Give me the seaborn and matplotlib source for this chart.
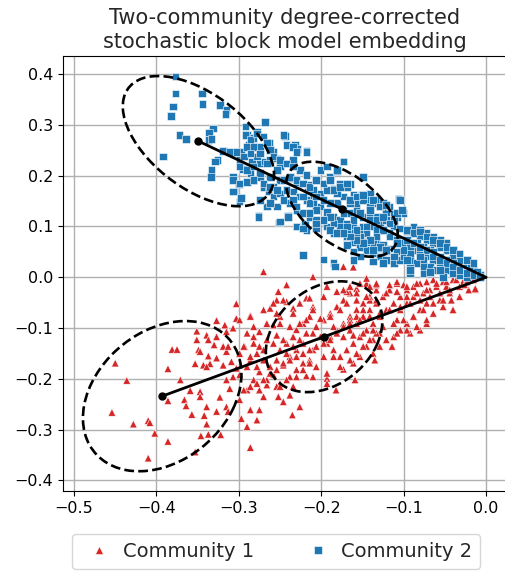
import numpy as np
import pandas as pd
import matplotlib
matplotlib.use("Agg")
import matplotlib.pyplot as plt
import seaborn as sns
from matplotlib.patches import Ellipse

# ---------------- data ----------------
communities = ["Community 1", "Community 2"]

# Community 2 (blue squares): (x, y) embedding coordinates
c2_xy = [
    (-0.377, 0.395), (-0.377, 0.362), (-0.345, 0.362), (-0.344, 0.341), (-0.380, 0.336),
    (-0.382, 0.318), (-0.323, 0.339), (-0.315, 0.329), (-0.316, 0.321), (-0.372, 0.280),
    (-0.364, 0.272), (-0.392, 0.238), (-0.331, 0.293), (-0.336, 0.285), (-0.337, 0.270),
    (-0.333, 0.272), (-0.319, 0.249), (-0.311, 0.247), (-0.326, 0.231), (-0.329, 0.228),
    (-0.333, 0.211), (-0.334, 0.198), (-0.307, 0.198), (-0.306, 0.169), (-0.300, 0.184),
    (-0.297, 0.157), (-0.299, 0.149), (-0.276, 0.121), (-0.251, 0.108), (-0.268, 0.306),
    (-0.292, 0.297), (-0.290, 0.280), (-0.282, 0.274), (-0.288, 0.260), (-0.278, 0.287),
    (-0.274, 0.257), (-0.263, 0.265), (-0.258, 0.247), (-0.244, 0.278), (-0.232, 0.260),
    (-0.229, 0.252), (-0.218, 0.249), (-0.242, 0.260), (-0.297, 0.247), (-0.299, 0.231),
    (-0.295, 0.213), (-0.284, 0.228), (-0.278, 0.238), (-0.274, 0.224), (-0.268, 0.228),
    (-0.262, 0.231), (-0.254, 0.234), (-0.250, 0.218), (-0.240, 0.224), (-0.234, 0.231),
    (-0.286, 0.205), (-0.282, 0.192), (-0.274, 0.198), (-0.270, 0.178), (-0.264, 0.169),
    (-0.258, 0.159), (-0.254, 0.139), (-0.266, 0.139), (-0.240, 0.121), (-0.230, 0.100),
    (-0.220, 0.106), (-0.222, 0.044), (-0.197, 0.035), (-0.185, 0.028), (-0.183, 0.021),
    (-0.173, 0.228), (-0.149, 0.198), (-0.165, 0.184), (-0.151, 0.162), (-0.141, 0.165),
    (-0.106, 0.154), (-0.100, 0.127), (-0.112, 0.125),
    (-0.250, 0.192), (-0.238, 0.195), (-0.230, 0.188), (-0.222, 0.185), (-0.214, 0.182),
    (-0.206, 0.192), (-0.216, 0.169), (-0.210, 0.159), (-0.201, 0.165), (-0.193, 0.172),
    (-0.185, 0.175), (-0.177, 0.185), (-0.169, 0.178), (-0.161, 0.162), (-0.153, 0.159),
    (-0.145, 0.152), (-0.137, 0.146), (-0.129, 0.139), (-0.121, 0.129), (-0.210, 0.146),
    (-0.201, 0.139), (-0.193, 0.129), (-0.185, 0.119), (-0.177, 0.113), (-0.169, 0.106),
    (-0.161, 0.100), (-0.153, 0.093), (-0.145, 0.087), (-0.137, 0.100), (-0.129, 0.106),
    (-0.121, 0.113), (-0.112, 0.100), (-0.104, 0.096), (-0.096, 0.090), (-0.088, 0.087),
    (-0.080, 0.080), (-0.072, 0.073), (-0.064, 0.067), (-0.056, 0.060), (-0.048, 0.054),
    (-0.040, 0.041), (-0.032, 0.034), (-0.023, 0.024), (-0.015, 0.014), (-0.007, 0.005),
    (-0.193, 0.100), (-0.185, 0.087), (-0.177, 0.087), (-0.169, 0.080), (-0.161, 0.070),
    (-0.153, 0.060), (-0.145, 0.054), (-0.137, 0.047), (-0.129, 0.041), (-0.121, 0.034),
    (-0.112, 0.028), (-0.104, 0.034), (-0.096, 0.047), (-0.088, 0.054), (-0.080, 0.051),
    (-0.072, 0.041), (-0.064, 0.034), (-0.056, 0.028), (-0.048, 0.014), (-0.040, 0.008),
    (-0.032, 0.005), (-0.092, 0.008), (-0.076, 0.008), (-0.068, 0.021), (-0.060, 0.014),
    (-0.052, 0.001), (-0.023, 0.001), (-0.015, 0.008), (-0.181, 0.146), (-0.173, 0.133),
    (-0.165, 0.126), (-0.157, 0.133), (-0.149, 0.119), (-0.141, 0.126), (-0.133, 0.119),
    (-0.125, 0.093), (-0.117, 0.087), (-0.108, 0.073), (-0.100, 0.067), (-0.092, 0.060),
    (-0.084, 0.067), (-0.076, 0.060), (-0.068, 0.054), (-0.234, 0.169), (-0.226, 0.159),
    (-0.218, 0.152), (-0.238, 0.146), (-0.230, 0.133), (-0.222, 0.126), (-0.214, 0.119),
    (-0.206, 0.113), (-0.197, 0.113), (-0.189, 0.146), (-0.133, 0.070), (-0.125, 0.064),
    (-0.117, 0.057), (-0.108, 0.051), (-0.100, 0.041), (-0.092, 0.034), (-0.084, 0.028),
    (-0.076, 0.034),
    (-0.165, 0.152), (-0.157, 0.146), (-0.173, 0.159), (-0.181, 0.165), (-0.133, 0.152),
    (-0.125, 0.146), (-0.117, 0.139), (-0.108, 0.119), (-0.112, 0.113), (-0.088, 0.100),
    (-0.080, 0.093), (-0.072, 0.087), (-0.064, 0.080), (-0.056, 0.073), (-0.048, 0.067),
    (-0.040, 0.054), (-0.032, 0.047), (-0.023, 0.034), (-0.040, 0.028), (-0.048, 0.034),
    (-0.056, 0.041), (-0.064, 0.051), (-0.032, 0.018), (-0.019, 0.018), (-0.011, 0.011),
    (-0.092, 0.018), (-0.112, 0.041), (-0.121, 0.051), (-0.129, 0.057), (-0.137, 0.067),
    (-0.145, 0.070), (-0.153, 0.080), (-0.161, 0.087), (-0.169, 0.093), (-0.177, 0.100),
    (-0.185, 0.106), (-0.169, 0.064), (-0.161, 0.051), (-0.153, 0.041), (-0.137, 0.031),
    (-0.206, 0.096), (-0.218, 0.093), (-0.210, 0.172), (-0.197, 0.152), (-0.206, 0.133),
    (-0.258, 0.178), (-0.250, 0.165), (-0.242, 0.172), (-0.246, 0.152), (-0.234, 0.152),
    (-0.262, 0.198), (-0.254, 0.211), (-0.226, 0.211), (-0.218, 0.201), (-0.201, 0.211),
    (-0.189, 0.198), (-0.181, 0.208), (-0.193, 0.218),
    (-0.292, 0.280), (-0.286, 0.270), (-0.278, 0.283), (-0.270, 0.277), (-0.290, 0.257),
    (-0.282, 0.257), (-0.274, 0.244), (-0.266, 0.264), (-0.262, 0.251), (-0.246, 0.280),
    (-0.234, 0.257), (-0.230, 0.247), (-0.218, 0.247), (-0.303, 0.247), (-0.294, 0.238),
    (-0.286, 0.244), (-0.299, 0.218), (-0.290, 0.211), (-0.282, 0.218), (-0.274, 0.205),
    (-0.266, 0.224), (-0.258, 0.238), (-0.250, 0.231), (-0.242, 0.224), (-0.234, 0.218),
    (-0.307, 0.192), (-0.299, 0.185), (-0.290, 0.188), (-0.282, 0.192), (-0.270, 0.185),
    (-0.262, 0.178), (-0.254, 0.172), (-0.246, 0.192), (-0.238, 0.198), (-0.230, 0.192),
    (-0.222, 0.185), (-0.214, 0.178), (-0.206, 0.192), (-0.197, 0.185), (-0.189, 0.192),
    (-0.181, 0.211), (-0.173, 0.228), (-0.185, 0.172), (-0.177, 0.178), (-0.169, 0.185),
    (-0.157, 0.159), (-0.149, 0.152), (-0.141, 0.139), (-0.165, 0.146), (-0.173, 0.126),
    (-0.189, 0.119), (-0.197, 0.113), (-0.206, 0.106), (-0.189, 0.093), (-0.181, 0.087),
    (-0.169, 0.080), (-0.157, 0.080), (-0.149, 0.100), (-0.141, 0.113), (-0.133, 0.093),
    (-0.307, 0.169), (-0.297, 0.156), (-0.274, 0.152), (-0.262, 0.146), (-0.250, 0.110),
    (-0.240, 0.119), (-0.276, 0.119), (-0.230, 0.100), (-0.222, 0.096), (-0.214, 0.146),
    (-0.206, 0.159), (-0.222, 0.159), (-0.230, 0.139), (-0.214, 0.126),
    (-0.165, 0.152), (-0.157, 0.159), (-0.149, 0.162), (-0.137, 0.152), (-0.129, 0.139),
    (-0.121, 0.142), (-0.141, 0.133), (-0.153, 0.126), (-0.161, 0.113), (-0.169, 0.100),
    (-0.157, 0.093), (-0.145, 0.100), (-0.133, 0.113), (-0.125, 0.119), (-0.117, 0.106),
    (-0.108, 0.126), (-0.104, 0.152), (-0.102, 0.133), (-0.096, 0.093), (-0.088, 0.087),
    (-0.080, 0.090), (-0.072, 0.080), (-0.064, 0.073), (-0.056, 0.067), (-0.048, 0.060),
    (-0.040, 0.054), (-0.032, 0.047), (-0.096, 0.073), (-0.088, 0.067), (-0.080, 0.060),
    (-0.072, 0.054), (-0.064, 0.041), (-0.056, 0.034), (-0.048, 0.028), (-0.040, 0.021),
    (-0.032, 0.014), (-0.023, 0.034), (-0.015, 0.028), (-0.023, 0.008), (-0.015, 0.005),
    (-0.007, 0.001), (-0.076, 0.021), (-0.068, 0.011), (-0.056, 0.014), (-0.080, 0.041),
    (-0.092, 0.047), (-0.100, 0.054), (-0.108, 0.067), (-0.117, 0.080), (-0.125, 0.093),
    (-0.133, 0.080), (-0.141, 0.073), (-0.149, 0.067), (-0.157, 0.073), (-0.165, 0.080),
    (-0.173, 0.087), (-0.129, 0.060), (-0.137, 0.054), (-0.121, 0.054), (-0.161, 0.034),
    (-0.125, 0.028), (-0.096, 0.034), (-0.092, 0.014),
]

# Community 1 (red triangles): (x, y) embedding coordinates
c1_xy = [
    (-0.270, 0.011), (-0.210, 0.001), (-0.173, 0.021), (-0.161, 0.020), (-0.137, 0.034),
    (-0.124, 0.040), (-0.242, -0.015), (-0.252, -0.028), (-0.303, -0.052), (-0.286, -0.075),
    (-0.327, -0.085), (-0.303, -0.081), (-0.351, -0.106), (-0.339, -0.114), (-0.381, -0.142),
    (-0.375, -0.142), (-0.349, -0.143), (-0.351, -0.123), (-0.327, -0.117), (-0.315, -0.107),
    (-0.307, -0.100), (-0.330, -0.133), (-0.319, -0.136), (-0.337, -0.155), (-0.327, -0.159),
    (-0.353, -0.170), (-0.343, -0.173), (-0.335, -0.170), (-0.450, -0.169), (-0.436, -0.203),
    (-0.386, -0.180), (-0.371, -0.202), (-0.454, -0.266), (-0.428, -0.289), (-0.410, -0.282),
    (-0.408, -0.286), (-0.402, -0.307), (-0.386, -0.323), (-0.410, -0.356), (-0.353, -0.344),
    (-0.359, -0.223), (-0.366, -0.241), (-0.364, -0.253), (-0.386, -0.243), (-0.347, -0.225),
    (-0.339, -0.255), (-0.342, -0.272), (-0.339, -0.289), (-0.346, -0.312), (-0.337, -0.309),
    (-0.322, -0.310), (-0.323, -0.236), (-0.327, -0.264), (-0.315, -0.255), (-0.311, -0.219),
    (-0.315, -0.202), (-0.307, -0.196), (-0.299, -0.192), (-0.297, -0.278), (-0.290, -0.294),
    (-0.286, -0.335), (-0.299, -0.241), (-0.290, -0.222), (-0.286, -0.261), (-0.275, -0.261),
    (-0.270, -0.235), (-0.275, -0.222), (-0.278, -0.281), (-0.266, -0.212), (-0.252, -0.235),
    (-0.246, -0.245), (-0.238, -0.232), (-0.226, -0.255), (-0.235, -0.271), (-0.218, -0.194),
    (-0.193, -0.199), (-0.193, -0.209), (-0.182, -0.222), (-0.159, -0.202), (-0.173, -0.181),
    (-0.286, -0.163), (-0.278, -0.150), (-0.270, -0.163), (-0.262, -0.176), (-0.254, -0.163),
    (-0.275, -0.186), (-0.258, -0.192), (-0.246, -0.173), (-0.238, -0.156), (-0.230, -0.143),
    (-0.222, -0.130), (-0.250, -0.143), (-0.242, -0.130), (-0.234, -0.117), (-0.254, -0.114),
    (-0.266, -0.123), (-0.275, -0.107), (-0.258, -0.094), (-0.250, -0.077), (-0.262, -0.061),
    (-0.254, -0.045), (-0.242, -0.048), (-0.234, -0.061), (-0.226, -0.051), (-0.218, -0.041),
    (-0.210, -0.058), (-0.214, -0.077), (-0.222, -0.091), (-0.230, -0.103), (-0.206, -0.097),
    (-0.197, -0.084), (-0.189, -0.071), (-0.181, -0.058), (-0.173, -0.045), (-0.165, -0.031),
    (-0.157, -0.022), (-0.193, -0.018), (-0.197, -0.038), (-0.181, -0.028), (-0.201, -0.117),
    (-0.193, -0.130), (-0.185, -0.143), (-0.177, -0.156), (-0.197, -0.156), (-0.210, -0.143),
    (-0.214, -0.163), (-0.206, -0.176), (-0.222, -0.169), (-0.230, -0.182), (-0.238, -0.196),
    (-0.169, -0.143), (-0.161, -0.130), (-0.153, -0.117), (-0.145, -0.104), (-0.137, -0.091),
    (-0.129, -0.077), (-0.121, -0.064), (-0.112, -0.051), (-0.104, -0.038), (-0.096, -0.025),
    (-0.088, -0.018), (-0.080, -0.012), (-0.072, -0.009), (-0.064, -0.005), (-0.052, -0.009),
    (-0.040, -0.005), (-0.028, -0.009), (-0.015, -0.005), (-0.013, -0.024), (-0.032, -0.018),
    (-0.044, -0.031), (-0.056, -0.045), (-0.040, -0.064), (-0.052, -0.058), (-0.064, -0.071),
    (-0.072, -0.051), (-0.080, -0.064), (-0.088, -0.077), (-0.096, -0.091), (-0.080, -0.104),
    (-0.092, -0.110), (-0.104, -0.104), (-0.108, -0.084), (-0.112, -0.117), (-0.114, -0.136),
    (-0.104, -0.064), (-0.096, -0.051), (-0.088, -0.038), (-0.076, -0.031), (-0.068, -0.025),
    (-0.060, -0.018), (-0.108, -0.012), (-0.100, -0.015), (-0.117, -0.025), (-0.125, -0.038),
    (-0.133, -0.051), (-0.141, -0.064), (-0.149, -0.077), (-0.157, -0.091), (-0.165, -0.104),
    (-0.173, -0.117), (-0.181, -0.104), (-0.173, -0.091), (-0.165, -0.077), (-0.157, -0.064),
    (-0.149, -0.051), (-0.141, -0.038), (-0.133, -0.025), (-0.145, -0.012), (-0.129, -0.110),
    (-0.137, -0.123), (-0.145, -0.136), (-0.153, -0.156), (-0.161, -0.169), (-0.137, -0.150),
    (-0.129, -0.136), (-0.121, -0.123), (-0.135, -0.163), (-0.189, -0.117), (-0.185, -0.097),
    (-0.210, -0.110), (-0.218, -0.110), (-0.226, -0.123), (-0.234, -0.136), (-0.242, -0.150),
    (-0.290, -0.176), (-0.299, -0.150), (-0.293, -0.136), (-0.282, -0.130), (-0.275, -0.136),
    (-0.282, -0.202), (-0.266, -0.202), (-0.250, -0.209), (-0.234, -0.215), (-0.254, -0.215),
    (-0.042, -0.045), (-0.032, -0.038), (-0.021, -0.025), (-0.026, -0.015), (-0.048, -0.018),
    (-0.072, -0.091),
    (-0.258, -0.051), (-0.246, -0.045), (-0.214, -0.041), (-0.210, -0.064), (-0.234, -0.071),
    (-0.254, -0.071), (-0.270, -0.064), (-0.286, -0.077), (-0.299, -0.084), (-0.282, -0.097),
    (-0.266, -0.091), (-0.250, -0.091), (-0.238, -0.097), (-0.226, -0.091), (-0.218, -0.084),
    (-0.201, -0.081), (-0.189, -0.077), (-0.177, -0.064), (-0.169, -0.028), (-0.157, -0.031),
    (-0.145, -0.002), (-0.133, -0.015), (-0.141, -0.045), (-0.149, -0.064), (-0.157, -0.077),
    (-0.165, -0.084), (-0.173, -0.097), (-0.181, -0.110), (-0.189, -0.123), (-0.197, -0.130),
    (-0.206, -0.136), (-0.214, -0.143), (-0.222, -0.150), (-0.230, -0.156), (-0.238, -0.163),
    (-0.246, -0.169), (-0.254, -0.182), (-0.262, -0.189), (-0.270, -0.202), (-0.278, -0.209),
    (-0.286, -0.215), (-0.294, -0.222), (-0.185, -0.156), (-0.177, -0.176), (-0.165, -0.163),
    (-0.157, -0.150), (-0.149, -0.136), (-0.141, -0.123), (-0.133, -0.110), (-0.214, -0.169),
    (-0.222, -0.182), (-0.230, -0.196), (-0.242, -0.202), (-0.250, -0.215), (-0.210, -0.196),
    (-0.193, -0.189), (-0.278, -0.176), (-0.286, -0.156), (-0.294, -0.136), (-0.270, -0.143),
    (-0.258, -0.130), (-0.246, -0.123), (-0.234, -0.117), (-0.282, -0.117), (-0.290, -0.110),
    (-0.173, -0.025), (-0.165, -0.018), (-0.153, -0.012), (-0.141, -0.018), (-0.133, -0.012),
    (-0.117, -0.015), (-0.108, -0.009), (-0.096, -0.018), (-0.084, -0.012), (-0.060, -0.012),
    (-0.048, -0.009), (-0.036, -0.005), (-0.023, -0.009), (-0.013, -0.022), (-0.044, -0.025),
    (-0.056, -0.031), (-0.068, -0.038), (-0.080, -0.045), (-0.092, -0.051), (-0.104, -0.058),
    (-0.117, -0.064), (-0.129, -0.071), (-0.141, -0.077), (-0.153, -0.084), (-0.165, -0.091),
    (-0.169, -0.051), (-0.157, -0.045), (-0.145, -0.038), (-0.133, -0.045), (-0.121, -0.031),
    (-0.108, -0.028), (-0.096, -0.038), (-0.084, -0.031), (-0.072, -0.025), (-0.064, -0.051),
    (-0.076, -0.064), (-0.088, -0.077), (-0.100, -0.084), (-0.112, -0.091), (-0.125, -0.097),
    (-0.137, -0.104), (-0.149, -0.110), (-0.161, -0.114), (-0.052, -0.045), (-0.040, -0.064),
    (-0.072, -0.084), (-0.084, -0.097), (-0.096, -0.104), (-0.108, -0.110),
    (-0.317, -0.094), (-0.337, -0.123), (-0.347, -0.146), (-0.315, -0.146), (-0.313, -0.136),
    (-0.339, -0.176), (-0.319, -0.173), (-0.309, -0.166), (-0.303, -0.179), (-0.347, -0.235),
    (-0.357, -0.270), (-0.313, -0.264),
]

# Latent-position centres (far point of each ray) and the mid points
ray_ends_x = [-0.393, -0.349]
ray_ends_y = [-0.234, 0.268]
mid_x = [-0.1965, -0.1748]
mid_y = [-0.117, 0.134]

# Covariance ellipses: centre x, centre y, width, height, angle (deg)
ell_cx = [-0.393, -0.1965, -0.349, -0.1748]
ell_cy = [-0.234, -0.117, 0.268, 0.134]
ell_w = [0.304, 0.224, 0.282, 0.206]
ell_h = [0.179, 0.132, 0.141, 0.104]
ell_ang = [73.3, 73.7, -61.2, -60.9]

xticks = [-0.5, -0.4, -0.3, -0.2, -0.1, 0.0]
yticks = [-0.4, -0.3, -0.2, -0.1, 0.0, 0.1, 0.2, 0.3, 0.4]

# ---------------- plotting ----------------
sns.set_style("ticks")
plt.rcParams["font.family"] = ["DejaVu Sans"]

c1 = np.array(c1_xy)
c2 = np.array(c2_xy)
df = pd.DataFrame({
    "x": np.concatenate([c1[:, 0], c2[:, 0]]),
    "y": np.concatenate([c1[:, 1], c2[:, 1]]),
    "community": [communities[0]] * len(c1) + [communities[1]] * len(c2),
})

fig = plt.figure(figsize=(5.05, 5.73), dpi=100)
ax = fig.add_axes([63 / 505, 82 / 573, 443 / 505, 435 / 573])
ax.set_axisbelow(True)
ax.grid(True, color="#b0b0b0", linewidth=1.0)

sns.scatterplot(
    data=df, x="x", y="y", hue="community", style="community",
    hue_order=communities, style_order=communities,
    markers={"Community 1": "^", "Community 2": "s"},
    palette={"Community 1": "#d62728", "Community 2": "#1f77b4"},
    s=30, linewidth=0.4, edgecolor="white", ax=ax, zorder=2,
)

for ex, ey in zip(ray_ends_x, ray_ends_y):
    ax.plot([0, ex], [0, ey], color="black", lw=2, zorder=4)
ax.plot(ray_ends_x + mid_x, ray_ends_y + mid_y, "o", color="black", ms=5, zorder=5)

for cx, cy, w, h, a in zip(ell_cx, ell_cy, ell_w, ell_h, ell_ang):
    ax.add_patch(Ellipse((cx, cy), w, h, angle=a, fill=False, ec="black",
                         ls="--", lw=1.9, zorder=4))

ax.set_xlim(-0.5134, 0.0243)
ax.set_ylim(-0.4207, 0.4356)
ax.set_xticks(xticks)
ax.set_yticks(yticks)
ax.tick_params(labelsize=11.5, colors="black")
for sp in ax.spines.values():
    sp.set_color("black")
ax.set_xlabel("")
ax.set_ylabel("")
ax.set_title("Two-community degree-corrected\nstochastic block model embedding",
             fontsize=15)

sns.move_legend(ax, "center", bbox_to_anchor=(276 / 505, 1 - 551.5 / 573),
                bbox_transform=fig.transFigure, ncol=2, title=None,
                frameon=True, fontsize=14, handletextpad=0.2, columnspacing=2.3)

fig.savefig("out.png", dpi=100)
